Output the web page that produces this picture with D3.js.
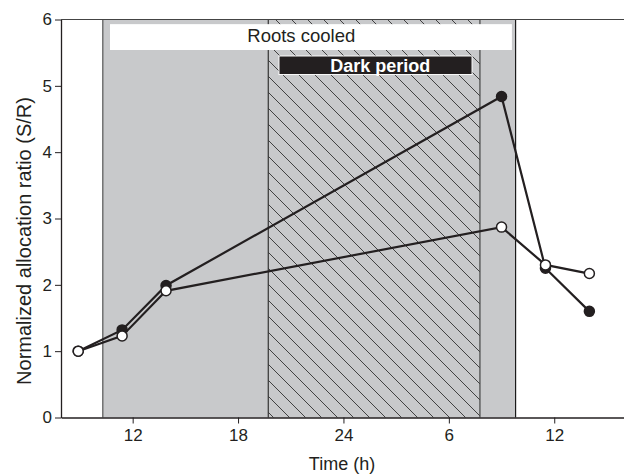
<!DOCTYPE html>
<html>
<head>
<meta charset="utf-8">
<script src="https://cdn.jsdelivr.net/npm/d3@7/dist/d3.min.js"></script>
<style>
  html, body { margin: 0; padding: 0; background: #fff; }
  svg { display: block; font-family: "Liberation Sans", Arial, Helvetica, sans-serif; }
</style>
</head>
<body>
<svg id="chart" width="624" height="474"></svg>
<script>
// Sampling times (h, continuous clock: 24 = midnight, 30 = 06:00 next day)
const times = [8.9, 11.4, 13.9, 33.0, 35.5, 38.0];
// Normalized shoot/root allocation ratio
const seriesFilled = [1.0, 1.32, 1.99, 4.84, 2.25, 1.60];
const seriesOpen   = [1.0, 1.23, 1.91, 2.87, 2.30, 2.17];

// x ticks and their clock labels
const xTickValues = [12, 18, 24, 30, 36];
const xTickLabels = ["12", "18", "24", "6", "12"];
const yTickValues = [0, 1, 2, 3, 4, 5, 6];

// Treatment windows (h)
const cooledWindow = [10.3, 33.8];
const darkWindow = [19.72, 31.77];

const svg = d3.select("#chart");
const W = 624;

const x = d3.scaleLinear().domain([7.92, 40]).range([61, 624.5]);
const y = d3.scaleLinear().domain([0, 6]).range([417.5, 19.5]);

const ink = "#231f20";

// hatch pattern for the dark period
const defs = svg.append("defs");
const hs = 16;
const pat = defs.append("pattern")
  .attr("id", "hatch")
  .attr("patternUnits", "userSpaceOnUse")
  .attr("width", hs).attr("height", hs);
pat.append("rect").attr("width", hs).attr("height", hs).attr("fill", "#c8c9cb");
pat.append("path")
  .attr("d", `M0,0L${hs},${hs}M${-2},${hs - 2}L2,${hs + 2}M${hs - 2},-2L${hs + 2},2`)
  .attr("stroke", "#1e1e1e").attr("stroke-width", 0.8).attr("fill", "none");

// roots-cooled band
svg.append("rect")
  .attr("x", x(cooledWindow[0])).attr("y", y(6))
  .attr("width", x(cooledWindow[1]) - x(cooledWindow[0]))
  .attr("height", y(0) - y(6))
  .attr("fill", "#c8c9cb");

// dark period band
svg.append("rect")
  .attr("x", x(darkWindow[0])).attr("y", y(6))
  .attr("width", x(darkWindow[1]) - x(darkWindow[0]))
  .attr("height", y(0) - y(6))
  .attr("fill", "url(#hatch)");

// band edges
const edge = (t, color) => svg.append("line")
  .attr("x1", x(t)).attr("x2", x(t))
  .attr("y1", y(6)).attr("y2", y(0))
  .attr("stroke", color).attr("stroke-width", 1.2);
edge(cooledWindow[0], "#555");
edge(cooledWindow[1], "#1a1a1a");
edge(darkWindow[0], "#333");
edge(darkWindow[1], "#444");

// "Roots cooled" label box
svg.append("rect")
  .attr("x", x(10.71)).attr("y", y(5.93))
  .attr("width", x(33.59) - x(10.71))
  .attr("height", y(5.54) - y(5.93))
  .attr("fill", "#fff");
svg.append("text")
  .attr("x", x(21.6)).attr("y", 42)
  .attr("text-anchor", "middle")
  .attr("font-size", 18.5).attr("fill", ink)
  .text("Roots cooled");

// "Dark period" label box
svg.append("rect")
  .attr("x", x(20.33)).attr("y", y(5.45))
  .attr("width", x(31.32) - x(20.33))
  .attr("height", y(5.17) - y(5.45))
  .attr("fill", ink).attr("stroke", "#fff").attr("stroke-width", 1);
svg.append("text")
  .attr("x", x(26.1)).attr("y", 72)
  .attr("text-anchor", "middle")
  .attr("font-size", 18).attr("font-weight", "bold").attr("fill", "#fff")
  .text("Dark period");

// frame top
svg.append("line")
  .attr("x1", x.range()[0]).attr("x2", W)
  .attr("y1", y(6)).attr("y2", y(6))
  .attr("stroke", "#444").attr("stroke-width", 1.2);

// axes
const xAxis = svg.append("g")
  .attr("transform", `translate(0,${y(0)})`)
  .call(d3.axisBottom(x).tickValues(xTickValues)
    .tickFormat((d, i) => xTickLabels[i]).tickSize(6).tickPadding(5).tickSizeOuter(0));
const yAxis = svg.append("g")
  .attr("transform", `translate(${x.range()[0]},0)`)
  .call(d3.axisLeft(y).tickValues(yTickValues).tickFormat(d3.format("d"))
    .tickSize(6).tickPadding(3).tickSizeOuter(0));

[xAxis, yAxis].forEach(g => {
  g.attr("font-size", 17).attr("font-family", "Liberation Sans, Arial, sans-serif");
  g.select(".domain").attr("stroke", ink).attr("stroke-width", 1.3);
  g.selectAll(".tick line").attr("stroke", ink).attr("stroke-width", 1);
  g.selectAll(".tick text").attr("fill", ink);
});

// axis titles
svg.append("text")
  .attr("x", 342).attr("y", 470)
  .attr("text-anchor", "middle")
  .attr("font-size", 18).attr("fill", ink)
  .text("Time (h)");
svg.append("text")
  .attr("transform", `translate(31,${241}) rotate(-90)`)
  .attr("text-anchor", "middle")
  .attr("font-size", 20).attr("fill", ink)
  .text("Normalized allocation ratio (S/R)");

// series
const line = d3.line().x(d => x(d[0])).y(d => y(d[1]));
function drawSeries(vals, fill) {
  const pts = times.map((t, i) => [t, vals[i]]);
  svg.append("path").datum(pts)
    .attr("d", line).attr("fill", "none")
    .attr("stroke", ink).attr("stroke-width", 2.2);
  svg.append("g").selectAll("circle").data(pts).join("circle")
    .attr("cx", d => x(d[0])).attr("cy", d => y(d[1]))
    .attr("r", 5)
    .attr("fill", fill).attr("stroke", ink).attr("stroke-width", 1.5);
}
drawSeries(seriesFilled, ink);
drawSeries(seriesOpen, "#fff");
</script>
</body>
</html>
